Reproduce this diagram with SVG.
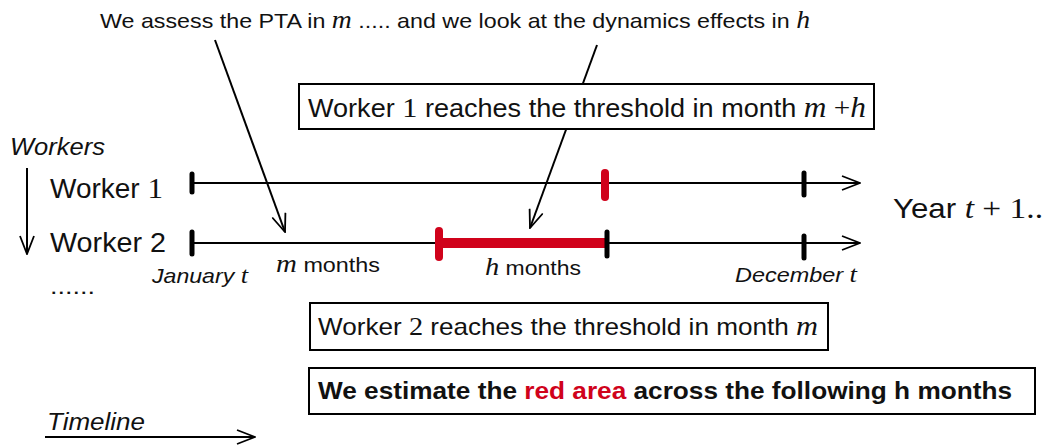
<svg xmlns="http://www.w3.org/2000/svg" width="1049" height="447" viewBox="0 0 1049 447">
<defs>
<marker id="ahb" viewBox="0 0 20 16" refX="19" refY="8" markerWidth="20" markerHeight="16" markerUnits="userSpaceOnUse" orient="auto"><path d="M1,1 L19,8 L1,15" fill="none" stroke="#000" stroke-width="1.8"/></marker>
</defs>
<style>
.t{font-family:"Liberation Sans",Arial,sans-serif;fill:#111}
.it{font-style:italic}
.mi{font-family:"Liberation Serif","DejaVu Serif",serif;font-style:italic}
.dg{font-family:"Liberation Serif","DejaVu Serif",serif}
.box{fill:#fff;stroke:#000;stroke-width:2}
.ln{stroke:#000;stroke-width:2;fill:none}
.tk{stroke:#000;stroke-width:5;stroke-linecap:round}
.rk{stroke:#d0021b;stroke-width:8;stroke-linecap:round}
.red{fill:#d0021b}
</style>
<rect width="1049" height="447" fill="#fff"/>
<g id="title"><text class="t" x="100" y="28" font-size="21" textLength="710" lengthAdjust="spacingAndGlyphs">We assess the PTA in <tspan class="mi" font-size="25">m</tspan> ..... and we look at the dynamics effects in <tspan class="mi" font-size="25">h</tspan></text></g>
<g id="connectors">
<line class="ln" x1="215" y1="40" x2="285" y2="232" stroke-width="1.5" marker-end="url(#ahb)"/>
<line class="ln" x1="597" y1="45" x2="530" y2="228" stroke-width="1.5" marker-end="url(#ahb)"/>
<line class="ln" x1="27" y1="168" x2="27" y2="254" stroke-width="1.5" marker-end="url(#ahb)"/>
<line class="ln" x1="45" y1="437" x2="255" y2="437" stroke-width="2" marker-end="url(#ahb)"/>
<line class="ln" x1="192" y1="183" x2="860" y2="183" marker-end="url(#ahb)"/>
<line class="ln" x1="192" y1="243" x2="860" y2="243" marker-end="url(#ahb)"/>
</g>
<g id="box1"><rect class="box" x="299" y="84" width="575" height="45"/>
<text class="t" x="308" y="117" font-size="25" textLength="558" lengthAdjust="spacingAndGlyphs">Worker <tspan class="dg" font-size="28">1</tspan> reaches the threshold in month <tspan class="mi" font-size="29">m</tspan><tspan class="dg" font-size="27">  +</tspan><tspan class="mi" font-size="29">h</tspan></text></g>
<g id="labels">
<text class="t it" x="10" y="155" font-size="23" textLength="95" lengthAdjust="spacingAndGlyphs">Workers</text>
<text class="t" x="50" y="198" font-size="27" textLength="113" lengthAdjust="spacingAndGlyphs">Worker <tspan class="dg" font-size="30">1</tspan></text>
<text class="t" x="50" y="252" font-size="27" textLength="116" lengthAdjust="spacingAndGlyphs">Worker 2</text>
<text class="t" x="50" y="294" font-size="22" textLength="45" lengthAdjust="spacingAndGlyphs">......</text>
<text class="t it" x="152" y="283" font-size="21" textLength="96" lengthAdjust="spacingAndGlyphs">January <tspan class="mi" font-size="24">t</tspan></text>
<text class="t" x="276" y="272" font-size="21" textLength="104" lengthAdjust="spacingAndGlyphs"><tspan class="mi" font-size="26">m</tspan> months</text>
<text class="t" x="485" y="275" font-size="21" textLength="96" lengthAdjust="spacingAndGlyphs"><tspan class="mi" font-size="26">h</tspan> months</text>
<text class="t it" x="735" y="282" font-size="21" textLength="122" lengthAdjust="spacingAndGlyphs">December <tspan class="mi" font-size="24">t</tspan></text>
<text class="t" x="893" y="218" font-size="28" textLength="150" lengthAdjust="spacingAndGlyphs">Year <tspan class="mi" font-size="30">t</tspan><tspan class="dg" font-size="30">  + 1..</tspan></text>
<text class="t it" x="47" y="430" font-size="23" textLength="98" lengthAdjust="spacingAndGlyphs">Timeline</text>
</g>
<g id="ticks">
<line class="tk" x1="192" y1="174" x2="192" y2="192"/>
<line class="rk" x1="605" y1="173" x2="605" y2="197"/>
<line class="tk" x1="804" y1="173" x2="804" y2="195"/>
<line class="tk" x1="192" y1="232" x2="192" y2="254"/>
<line x1="440" y1="243" x2="607" y2="243" stroke="#d0021b" stroke-width="10"/>
<line class="rk" x1="439" y1="231" x2="439" y2="257"/>
<line class="tk" x1="607" y1="232" x2="607" y2="256"/>
<line class="tk" x1="804" y1="236" x2="804" y2="258"/>
</g>
<g id="box2"><rect class="box" x="310" y="303" width="518" height="47"/>
<text class="t" x="318" y="335" font-size="24" textLength="500" lengthAdjust="spacingAndGlyphs">Worker <tspan class="dg" font-size="26">2</tspan> reaches the threshold in month <tspan class="mi" font-size="28">m</tspan></text></g>
<g id="box3"><rect class="box" x="309" y="368" width="726" height="46"/>
<text class="t" x="318" y="399" font-size="24" font-weight="bold" textLength="694" lengthAdjust="spacingAndGlyphs">We estimate the <tspan class="red">red area</tspan> across the following h months</text></g>
</svg>
